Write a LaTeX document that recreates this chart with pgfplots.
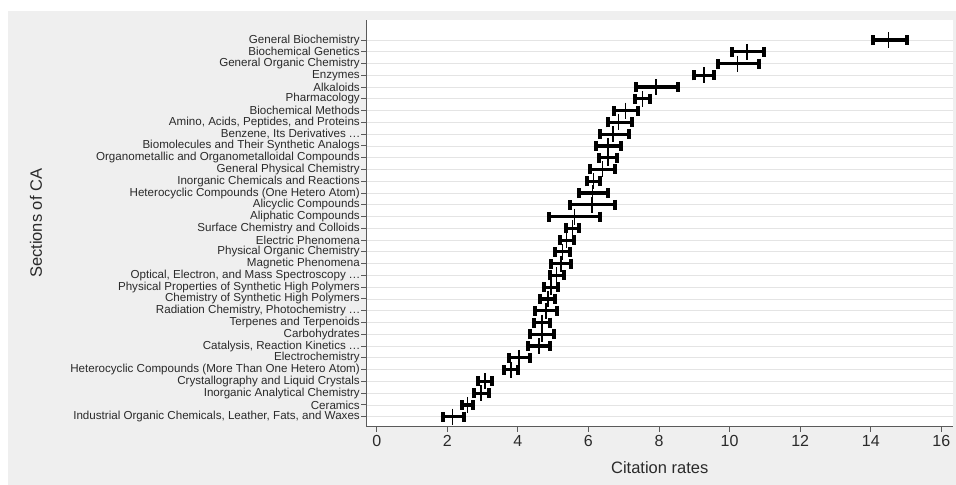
\documentclass[border=0pt]{standalone}
\usepackage{fontspec}
\setmainfont{Liberation Sans}
\usepackage{pgfplots}
\usepackage{pgfplotstable}
\pgfplotsset{compat=1.18}
\definecolor{bggray}{HTML}{EFEFEF}
\definecolor{gridgray}{HTML}{E4E4E4}
\definecolor{axgray}{HTML}{5A5A5A}
\definecolor{txtgray}{HTML}{2A2A2A}
\newcommand{\dd}{.\kern0.5pt.\kern0.5pt.}
\pgfplotstableread{
y c lo hi
33 14.50 14.05 15.04
32 10.50 10.06 10.98
31 10.22 9.66 10.82
30 9.28 8.99 9.57
29 7.91 7.35 8.53
28 7.53 7.33 7.74
27 7.05 6.71 7.40
26 6.85 6.55 7.22
25 6.70 6.34 7.16
24 6.55 6.20 6.92
23 6.55 6.31 6.81
22 6.40 6.05 6.76
21 6.14 5.95 6.33
20 6.12 5.72 6.54
19 6.10 5.48 6.74
18 5.60 4.87 6.33
17 5.55 5.35 5.72
16 5.38 5.18 5.58
15 5.27 5.06 5.48
14 5.22 4.95 5.50
13 5.10 4.91 5.30
12 4.94 4.73 5.15
11 4.85 4.63 5.06
10 4.80 4.49 5.12
9 4.68 4.46 4.91
8 4.69 4.35 5.03
7 4.60 4.30 4.90
6 4.04 3.75 4.33
5 3.80 3.61 4.00
4 3.07 2.88 3.26
3 2.96 2.76 3.17
2 2.57 2.41 2.74
1 2.15 1.89 2.46
}\datatable
\begin{document}
\begin{tikzpicture}
\path[use as bounding box, fill=white] (0,0) rectangle (956bp,485bp);
\fill[bggray] (8bp,0) rectangle (956bp,474bp);
\begin{axis}[
  at={(366.5bp,58.3bp)}, anchor=south west,
  scale only axis, width=586.5bp, height=406.7bp,
  xmin=-0.289, xmax=16.33, ymin=0.15, ymax=34.7,
  axis background/.style={fill=white},
  axis x line=bottom, axis y line=left,
  axis line style={-, draw=axgray, line width=1.3bp},
  tick align=outside, major tick length=5bp,
  every tick/.style={draw=axgray, line width=1bp},
  xtick={0,2,4,6,8,10,12,14,16},
  ytick={1,2,3,4,5,6,7,8,9,10,11,12,13,14,15,16,17,18,19,20,21,22,23,24,25,26,27,28,29,30,31,32,33},
  ymajorgrids, grid style={draw=gridgray, line width=0.8bp},
  /pgf/number format/assume math mode=true,
  xticklabel style={font=\fontsize{16bp}{18bp}\selectfont, text=txtgray},
  yticklabel style={font=\fontsize{11.6bp}{12bp}\selectfont, text=txtgray, inner sep=1.5bp},
  yticklabels={
    {Industrial Organic Chemicals, Leather, Fats, and Waxes},
    {Ceramics},
    {Inorganic Analytical Chemistry},
    {Crystallography and Liquid Crystals},
    {Heterocyclic Compounds (More Than One Hetero Atom)},
    {Electrochemistry},
    {Catalysis, Reaction Kinetics \dd},
    {Carbohydrates},
    {Terpenes and Terpenoids},
    {Radiation Chemistry, Photochemistry \dd},
    {Chemistry of Synthetic High Polymers},
    {Physical Properties of Synthetic High Polymers},
    {Optical, Electron, and Mass Spectroscopy \dd},
    {Magnetic Phenomena},
    {Physical Organic Chemistry},
    {Electric Phenomena},
    {Surface Chemistry and Colloids},
    {Aliphatic Compounds},
    {Alicyclic Compounds},
    {Heterocyclic Compounds (One Hetero Atom)},
    {Inorganic Chemicals and Reactions},
    {General Physical Chemistry},
    {Organometallic and Organometalloidal Compounds},
    {Biomolecules and Their Synthetic Analogs},
    {Benzene, Its Derivatives \dd},
    {Amino, Acids, Peptides, and Proteins},
    {Biochemical Methods},
    {Pharmacology},
    {Alkaloids},
    {Enzymes},
    {General Organic Chemistry},
    {Biochemical Genetics},
    {General Biochemistry}},
  xlabel={Citation rates},
  ylabel={Sections of CA},
  every axis x label/.style={at={(axis description cs:0.5,-0.1003)}, anchor=center, font=\fontsize{16.5bp}{18bp}\selectfont, text=txtgray},
  every axis y label/.style={at={(axis description cs:-0.5635,0.5)}, rotate=90, anchor=center, font=\fontsize{16.5bp}{18bp}\selectfont, text=txtgray},
  clip=false,
]
\addplot[only marks, mark=|, mark size=8bp, mark options={line width=1.6bp, draw=black},
  error bars/.cd, x dir=both, x explicit,
  error bar style={line width=3.2bp, black},
  error mark options={rotate=90, line width=4bp, mark size=5bp, black}]
  table[x=c, y=y, x error plus expr=\thisrow{hi}-\thisrow{c}, x error minus expr=\thisrow{c}-\thisrow{lo}] {\datatable};
\end{axis}
\end{tikzpicture}
\end{document}
